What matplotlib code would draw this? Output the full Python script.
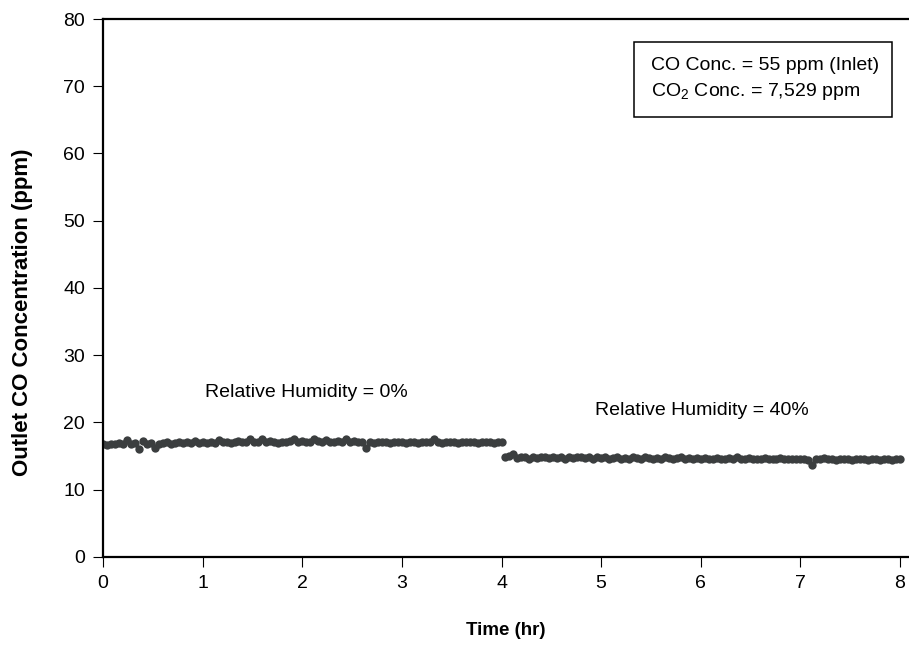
import numpy as np
import matplotlib
matplotlib.use("Agg")
import matplotlib.pyplot as plt
from matplotlib.patches import Rectangle

plt.rcParams['font.family'] = ['Liberation Sans', 'DejaVu Sans']
plt.rcParams['mathtext.fontset'] = 'custom'
plt.rcParams['mathtext.rm'] = 'Liberation Sans'
plt.rcParams['mathtext.it'] = 'Liberation Sans'

# sampling interval of the logger (hr)
step = 0.04

# RH = 0%, t = 0 .. 4.0 hr
co_rh0 = [16.7, 16.6, 16.8, 16.7, 16.9, 16.8, 17.3, 16.8, 16.9, 16.1, 17.2, 16.8, 16.9,
          16.2, 16.8, 16.9, 17.0, 16.8, 16.9, 17.1, 16.9, 17.0, 16.9, 17.2, 16.9,
          17.0, 16.9, 17.1, 16.9, 17.3, 17.0, 17.1, 16.9, 17.0, 17.2, 17.0, 17.1, 17.5,
          17.0, 17.1, 17.5, 17.0, 17.2, 17.1, 16.9, 17.0, 17.1, 17.2, 17.5, 17.1,
          17.2, 17.0, 17.1, 17.5, 17.2, 17.1, 17.3, 17.0, 17.1, 17.2, 17.0, 17.5, 17.1,
          17.2, 17.1, 17.0, 16.2, 17.0, 16.9, 17.1, 17.0, 17.1, 16.9, 17.0, 17.1,
          17.0, 16.9, 17.1, 17.0, 16.9, 17.1, 17.0, 17.0, 17.5, 17.0, 16.9, 17.0, 17.1,
          17.0, 16.9, 17.0, 17.1, 17.0, 17.0, 16.9, 17.1, 17.0, 17.0, 16.9, 17.0,
          17.0]

# RH = 40%, t = 4.04 .. 8.0 hr
co_rh40 = [14.9, 15.0, 15.3, 14.7, 14.8, 14.9, 14.6, 14.8, 14.7, 14.9, 14.8, 14.7,
           14.8, 14.7, 14.8, 14.6, 14.8, 14.7, 14.9, 14.8, 14.7, 14.8, 14.6, 14.8,
           14.7, 14.8, 14.6, 14.7, 14.8, 14.5, 14.7, 14.6, 14.8, 14.7, 14.6, 14.8, 14.7,
           14.5, 14.7, 14.6, 14.8, 14.7, 14.6, 14.7, 14.8, 14.6, 14.7, 14.6, 14.7,
           14.6, 14.7, 14.5, 14.6, 14.7, 14.6, 14.5, 14.7, 14.6, 14.8, 14.6, 14.5, 14.7,
           14.6, 14.5, 14.6, 14.7, 14.5, 14.6, 14.5, 14.7, 14.6, 14.5, 14.6, 14.5,
           14.6, 14.5, 14.4, 13.7, 14.6, 14.5, 14.7, 14.5, 14.6, 14.4, 14.6, 14.5, 14.6,
           14.4, 14.5, 14.6, 14.5, 14.4, 14.6, 14.5, 14.4, 14.6, 14.5, 14.4, 14.5,
           14.5]

t_rh0 = np.arange(len(co_rh0)) * step
t_rh40 = 4.04 + np.arange(len(co_rh40)) * step

xticks = [0, 1, 2, 3, 4, 5, 6, 7, 8]
yticks = [0, 10, 20, 30, 40, 50, 60, 70, 80]

fig = plt.figure(figsize=(9.09, 6.49), dpi=100)
ax = fig.add_axes([0.1133, 0.1422, 0.8867, 0.8285])

trace = '#3b3e3f'
ax.plot(t_rh0, co_rh0, ls='none', color=trace, marker='o', ms=6, mew=0)
ax.plot(t_rh40, co_rh40, ls='none', color=trace, marker='o', ms=6, mew=0)

ax.set_xlim(0, 8.09)
ax.set_ylim(0, 80)
ax.set_xticks(xticks)
ax.set_yticks(yticks)
ax.tick_params(direction='out', length=7, width=0.8, labelsize=14, pad=6)

for s in ['left', 'bottom', 'top']:
    ax.spines[s].set_linewidth(1.6)
ax.spines['right'].set_visible(False)

ax.set_xlabel('Time (hr)', fontsize=13.5, fontweight='bold')
ax.set_ylabel('Outlet CO Concentration (ppm)', fontsize=16, fontweight='bold')
ax.xaxis.set_label_coords(0.5, -0.121)
ax.yaxis.set_label_coords(-0.087, 0.455)

ax.text(1.02, 24.5, 'Relative Humidity = 0%', fontsize=14, va='center')
ax.text(4.94, 21.7, 'Relative Humidity = 40%', fontsize=14, va='center')

ax.add_patch(Rectangle((0.659, 0.818), 0.32, 0.139, transform=ax.transAxes,
                       fill=False, lw=1.1, ec='black'))
ax.text(0.680, 0.914, 'CO Conc. = 55 ppm (Inlet)', transform=ax.transAxes,
        fontsize=14, va='center')
ax.text(0.680, 0.866, 'CO$_2$ Conc. = 7,529 ppm', transform=ax.transAxes,
        fontsize=14, va='center')

fig.savefig('out.png', dpi=100)
